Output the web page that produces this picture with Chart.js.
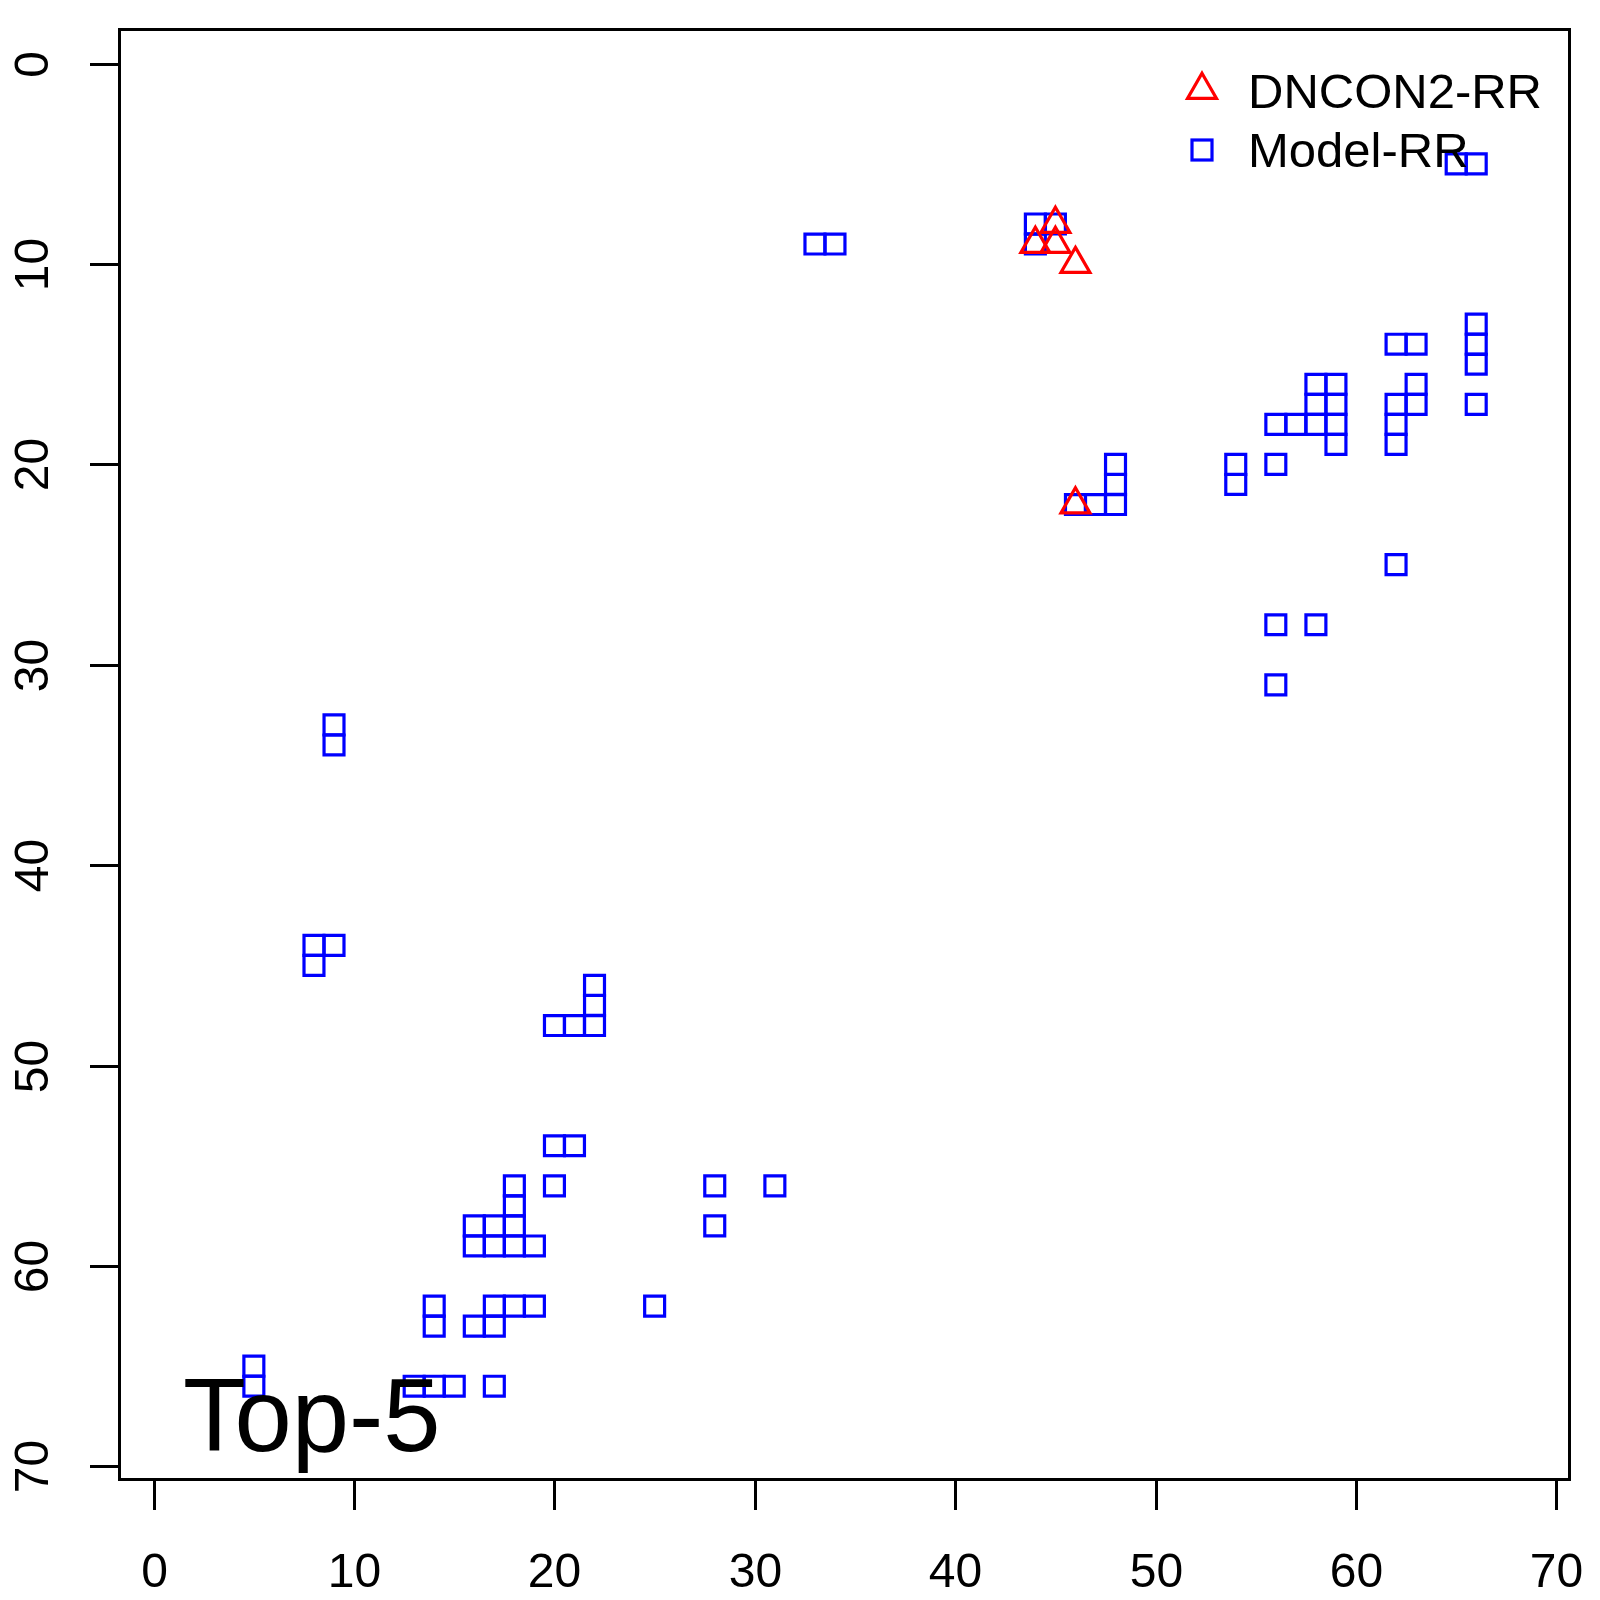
<!DOCTYPE html>
<html>
<head>
<meta charset="utf-8">
<title>Top-5</title>
<script src="https://cdn.jsdelivr.net/npm/chart.js@4.4.1/dist/chart.umd.min.js"></script>
<style>
  html, body { margin: 0; padding: 0; background: #fff; }
  #wrap { width: 1600px; height: 1600px; }
</style>
</head>
<body>
<div id="wrap"><canvas id="plot" width="1600" height="1600"></canvas></div>
<script>
// --- data ---
const dnconX = [45, 44, 45, 46, 46];
const dnconY = [8, 9, 9, 10, 22];

const modelX = [33, 34, 44, 45, 44, 46, 47, 48, 48, 48, 65, 66,
  66, 66, 66, 66, 62, 63, 63, 63, 62, 62, 62, 62,
  58, 59, 58, 59, 58, 59, 59, 56, 57, 56, 54, 54, 56, 58, 56,
  9, 9, 8, 9, 8, 20, 21, 22, 22, 22, 20, 21, 20,
  18, 18, 18, 18, 16, 17, 16, 17, 19,
  14, 14, 16, 17, 17, 18, 19, 25, 28, 28, 31,
  5, 5, 13, 14, 15, 17];
const modelY = [9, 9, 8, 8, 9, 22, 22, 22, 21, 20, 5, 5,
  13, 14, 15, 17, 14, 14, 16, 17, 17, 18, 19, 25,
  16, 16, 17, 17, 18, 18, 19, 18, 18, 20, 20, 21, 28, 28, 31,
  33, 34, 44, 44, 45, 48, 48, 48, 47, 46, 54, 54, 56,
  56, 57, 58, 59, 58, 58, 59, 59, 59,
  62, 63, 63, 62, 63, 62, 62, 62, 56, 58, 56,
  65, 66, 66, 66, 66, 66];

const xTicks = [0, 10, 20, 30, 40, 50, 60, 70];
const yTicks = [0, 10, 20, 30, 40, 50, 60, 70];
const seriesNames = ['DNCON2-RR', 'Model-RR'];
const panelLabel = 'Top-5';

const toPoints = (xs, ys) => xs.map((x, i) => ({ x: x, y: ys[i] }));

const FONT = '"Liberation Sans", Arial, Helvetica, sans-serif';

// R-like axes, box, legend and panel label
const baseGraphics = {
  id: 'baseGraphics',
  afterDraw(chart) {
    const ctx = chart.ctx;
    const area = chart.chartArea;
    const sx = chart.scales.x, sy = chart.scales.y;
    ctx.save();
    ctx.strokeStyle = '#000';
    ctx.fillStyle = '#000';
    ctx.lineWidth = 3;
    ctx.strokeRect(area.left - 0.5, area.top - 0.5, area.right - area.left, area.bottom - area.top);

    ctx.font = '48px ' + FONT;
    ctx.textAlign = 'center';
    ctx.textBaseline = 'alphabetic';
    xTicks.forEach(v => {
      const px = Math.round(sx.getPixelForValue(v)) + 0.5;
      ctx.beginPath();
      ctx.moveTo(px, area.bottom);
      ctx.lineTo(px, area.bottom + 30);
      ctx.stroke();
      ctx.fillText(String(v), px, 1587);
    });
    yTicks.forEach(v => {
      const py = Math.round(sy.getPixelForValue(v)) + 0.5;
      ctx.beginPath();
      ctx.moveTo(area.left, py);
      ctx.lineTo(area.left - 30, py);
      ctx.stroke();
      ctx.save();
      ctx.translate(48, py);
      ctx.rotate(-Math.PI / 2);
      ctx.fillText(String(v), 0, 0);
      ctx.restore();
    });

    // legend
    const mx = 1202;
    ctx.lineWidth = 3.2;
    ctx.strokeStyle = '#ff0000';
    const r = 16.7, ty = 90;
    ctx.beginPath();
    ctx.moveTo(mx, ty - r);
    ctx.lineTo(mx + r * Math.sin(2 * Math.PI / 3), ty + r / 2);
    ctx.lineTo(mx - r * Math.sin(2 * Math.PI / 3), ty + r / 2);
    ctx.closePath();
    ctx.stroke();
    ctx.strokeStyle = '#0000ff';
    ctx.strokeRect(mx - 10, 150 - 10, 20, 20);

    ctx.textAlign = 'left';
    ctx.fillStyle = '#000';
    ctx.font = '49px ' + FONT;
    ctx.fillText(seriesNames[0], 1248, 108);
    ctx.fillText(seriesNames[1], 1248, 167);

    ctx.font = '103px ' + FONT;
    ctx.fillText(panelLabel, 183, 1451);
    ctx.restore();
  }
};

new Chart(document.getElementById('plot'), {
  type: 'scatter',
  data: {
    datasets: [
      {
        label: seriesNames[0],
        data: toPoints(dnconX, dnconY),
        pointStyle: 'triangle',
        pointRadius: 16.7,
        borderColor: '#ff0000',
        backgroundColor: 'rgba(0,0,0,0)',
        borderWidth: 3.2
      },
      {
        label: seriesNames[1],
        data: toPoints(modelX, modelY),
        pointStyle: 'rect',
        pointRadius: 14.1,
        borderColor: '#0000ff',
        backgroundColor: 'rgba(0,0,0,0)',
        borderWidth: 3.2
      }
    ]
  },
  options: {
    responsive: false,
    animation: false,
    devicePixelRatio: 1,
    layout: { padding: { left: 120, top: 30, right: 30, bottom: 120 } },
    plugins: { legend: { display: false }, tooltip: { enabled: false } },
    scales: {
      x: { type: 'linear', min: -1.68, max: 70.68, display: false },
      y: { type: 'linear', min: -1.68, max: 70.68, reverse: true, display: false }
    }
  },
  plugins: [baseGraphics]
});
</script>
</body>
</html>
